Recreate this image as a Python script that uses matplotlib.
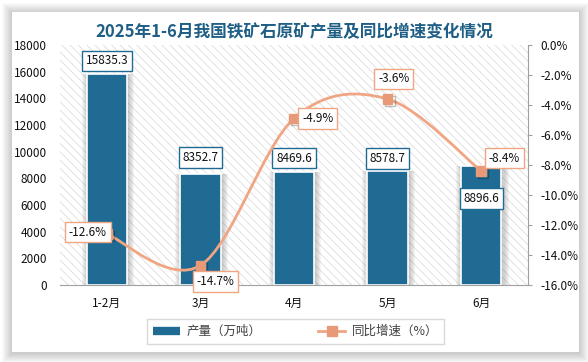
import matplotlib
matplotlib.use("Agg")
from matplotlib import pyplot as plt
from matplotlib.patches import Rectangle, PathPatch
from matplotlib.path import Path
from matplotlib.lines import Line2D
import matplotlib.patheffects as pe

plt.rcParams['font.family'] = ['Noto Sans CJK SC', 'DejaVu Sans']
plt.rcParams['hatch.linewidth'] = 0.5

# data
months = ["1-2月", "3月", "4月", "5月", "6月"]
output = [15835.3, 8352.7, 8469.6, 8578.7, 8896.6]
growth = [-12.6, -14.7, -4.9, -3.6, -8.4]

title = "2025年1-6月我国铁矿石原矿产量及同比增速变化情况"
bar_name = "产量（万吨）"
line_name = "同比增速（%）"

bar_clr = "#1F6B94"
line_clr = "#F0A583"
mark_clr = "#E89A78"
W, H = 588, 362

fig = plt.figure(figsize=(W / 100, H / 100), dpi=100, facecolor="white")

# card with soft shadow
x0, y0, x1, y1 = 12, 10, 579, 350
for i in range(10, 0, -1):
    fig.add_artist(Rectangle(((x0 - i) / W, (y0 - i - 1) / H), (x1 - x0 + 2 * i) / W,
                             (y1 - y0 + 2 * i) / H, transform=fig.transFigure,
                             fc="black", ec="none", alpha=0.018, zorder=-20))
fig.add_artist(Rectangle((x0 / W, y0 / H), (x1 - x0) / W, (y1 - y0) / H,
                         transform=fig.transFigure, fc="white", ec="none", zorder=-10))

ax = fig.add_axes([60 / W, (H - 285) / H, 468 / W, 240 / H])
ax.set_facecolor("white")
ax.add_patch(Rectangle((0, 0), 1, 1, transform=ax.transAxes, fc="white",
                       ec="#D6D6D6", lw=0, hatch="\\\\\\\\", zorder=0))

xs = list(range(len(months)))
# soft glow behind the bars
for k in range(1, 7):
    ax.bar([x + 0.012 for x in xs], output, width=0.43 + k * 0.022, bottom=0,
           color="#707070", alpha=0.07, linewidth=0, zorder=1)
bars = ax.bar(xs, output, width=0.43, color=bar_clr, edgecolor="white", linewidth=1.2, zorder=2)

ax.set_xlim(-0.5, len(months) - 0.5)
ax.set_ylim(0, 18000)
ax.set_yticks(range(0, 18001, 2000))
ax.set_xticks(xs)
ax.set_xticklabels(months)
ax.tick_params(axis="y", length=0, pad=9.5, labelsize=8.5, colors="#111111")
ax.tick_params(axis="x", length=0, pad=8.5, labelsize=8.5, colors="#111111")
for s in ["left", "top", "right"]:
    ax.spines[s].set_visible(False)
ax.spines["bottom"].set_color("#A0A0A0")
ax.spines["bottom"].set_zorder(3)

# bar labels
bar_offsets = [(0, 13), (0, 16), (0, 14), (0, 12), (0, -32)]
for x, v, off in zip(xs, output, bar_offsets):
    ax.annotate(f"{v:.1f}", (x, v), xytext=off, textcoords="offset pixels",
                ha="center", va="center", fontsize=8.5, color="#111111", zorder=6,
                bbox=dict(boxstyle="square,pad=0.32", fc="white", ec=bar_clr, lw=1))

ax2 = ax.twinx()
ax2.set_ylim(-16, 0)
ax2.set_yticks(range(-16, 1, 2))
ax2.set_yticklabels([f"{t:.1f}%" for t in range(-16, 1, 2)])
ax2.tick_params(axis="y", length=3, width=0.8, pad=6, labelsize=8.5,
                color="#A0A0A0", labelcolor="#111111")
for s in ["left", "top", "bottom"]:
    ax2.spines[s].set_visible(False)
ax2.spines["right"].set_color("#A0A0A0")

# smooth line: bezier control points from neighbours (catmull-rom style)
pts = list(zip(xs, growth))
verts = [pts[0]]
codes = [Path.MOVETO]
n = len(pts)
for i in range(n - 1):
    p0 = pts[max(i - 1, 0)]
    p1 = pts[i]
    p2 = pts[i + 1]
    p3 = pts[min(i + 2, n - 1)]
    c1 = (p1[0] + (p2[0] - p0[0]) / 6, p1[1] + (p2[1] - p0[1]) / 6)
    c2 = (p2[0] - (p3[0] - p1[0]) / 6, p2[1] - (p3[1] - p1[1]) / 6)
    verts += [c1, c2, p2]
    codes += [Path.CURVE4] * 3
ax2.add_patch(PathPatch(Path(verts, codes), fc="none", ec=line_clr, lw=2, zorder=3))
ax2.plot(xs, growth, ls="none", marker="s", ms=7, color=mark_clr, zorder=4,
         path_effects=[pe.SimpleLineShadow(offset=(1.5, -1.5), alpha=0.25), pe.Normal()])

line_offsets = [(-19, 2, "center"), (15, -16, "center"), (8, 0, "left"), (6, 20, "center"), (23, 13, "center")]
for x, v, (dx, dy, ha) in zip(xs, growth, line_offsets):
    ax2.annotate(f"{v:.1f}%", (x, v), xytext=(dx, dy), textcoords="offset pixels",
                 ha=ha, va="center", fontsize=8.5, color="#111111", zorder=6,
                 bbox=dict(boxstyle="square,pad=0.32", fc="white", ec=line_clr, lw=1))

fig.text(294 / W, 1 - 32 / H, title, ha="center", va="center", fontsize=12,
         fontweight="bold", color="#1F5F85")

handles = [Line2D([], [], color=bar_clr, lw=6, solid_capstyle="butt"),
           Line2D([], [], color=line_clr, lw=2, marker="s", ms=7, mfc=mark_clr, mec=mark_clr)]
leg = fig.legend(handles, [bar_name, line_name], loc="center", ncol=2,
                 bbox_to_anchor=(295.5 / W, 1 - 331.5 / H), frameon=True, fancybox=False,
                 edgecolor="#D0D0D0", fontsize=9, handlelength=2.2, columnspacing=4.5,
                 borderpad=0.45, handletextpad=0.5, labelcolor="#404040")
leg.get_frame().set_linewidth(1)

fig.savefig("out.png", dpi=100, facecolor="white")
